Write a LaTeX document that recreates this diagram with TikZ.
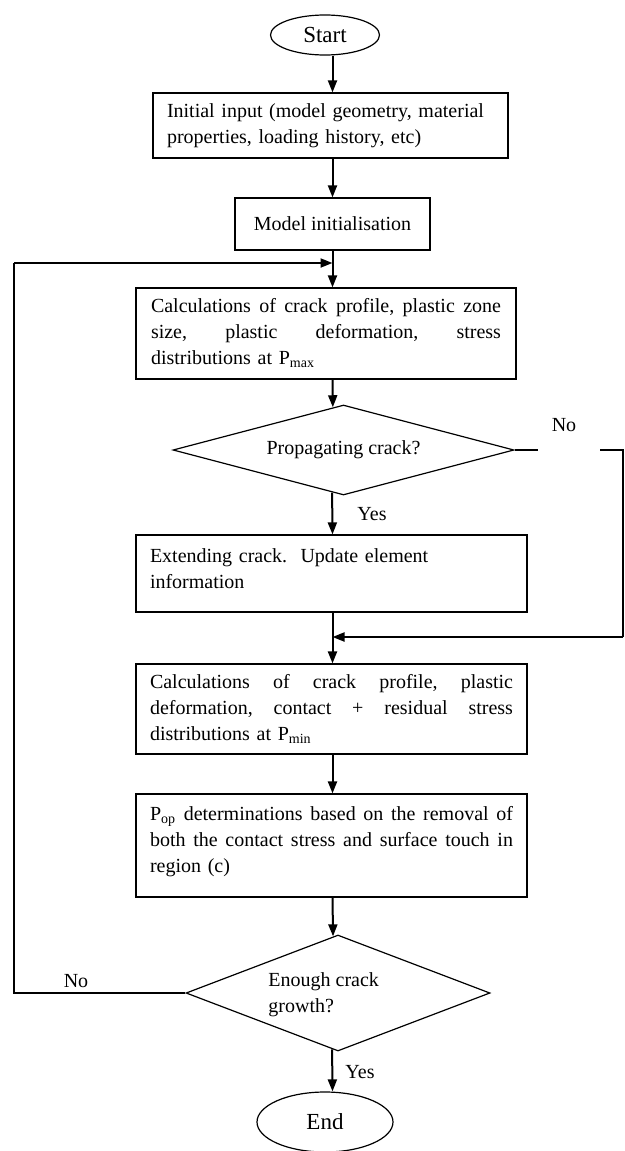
\documentclass[tikz,border=0pt]{standalone}
\usepackage{fontspec}
\setmainfont{Liberation Serif}
\usetikzlibrary{shapes.geometric,arrows.meta}
\newcommand{\jline}[2]{\makebox[#1][l]{#2}}
\begin{document}
\begin{tikzpicture}[x=0.5pt,y=-0.5pt,
  every node/.style={font=\fontsize{10}{13}\selectfont},
  term/.style={ellipse,draw,line width=0.6pt,inner sep=0pt,font=\fontsize{11.5}{13}\selectfont},
  procbox/.style={rectangle,draw,line width=0.6pt,inner xsep=7pt,inner ysep=0pt,align=left},
  decision/.style={diamond,draw,line width=0.6pt,inner sep=0pt},
  flow/.style={line width=1pt,-{Triangle[length=6pt,width=4.5pt]}},
  loopline/.style={line width=0.7pt},
  lbl/.style={inner sep=0pt}
]
\useasboundingbox (0,0) rectangle (625,1151);

% terminals
\node[term, minimum width=54.5pt, minimum height=20pt] (start) at (325,35) {Start};
\node[term, minimum width=68pt, minimum height=30pt] (end) at (325,1122) {End};

% process boxes
\node[procbox, minimum width=177.5pt, minimum height=32.5pt, text width=163.5pt] (b1) at (330.5,125.5)
  {Initial input (model geometry, material\\properties, loading history, etc)};
\node[procbox, minimum width=97.5pt, minimum height=26pt, align=center] (b2) at (332.5,224)
  {Model initialisation};
\node[procbox, inner xsep=7.5pt, minimum width=190pt, minimum height=45.5pt, text width=175pt] (b3) at (326,333.5)
  {\jline{175pt}{Calculations\hfill of\hfill crack\hfill profile,\hfill plastic\hfill zone}\\
   \jline{175pt}{size,\hfill plastic\hfill deformation,\hfill stress}\\
   distributions at P\textsubscript{max}};
\node[decision, minimum width=170.5pt, minimum height=45pt, shape aspect=3.8] (d1) at (343.5,450)
  {Propagating crack?};
\node[procbox, minimum width=195.5pt, minimum height=38.5pt, text width=181.5pt] (b4) at (331.5,573.5)
  {Extending crack.\ \ Update element\\information\\[-8.5pt]\mbox{}};
\node[procbox, minimum width=195.5pt, minimum height=45pt, text width=181.5pt] (b5) at (331.5,709)
  {\jline{181.5pt}{Calculations\hfill of\hfill crack\hfill profile,\hfill plastic}\\
   \jline{181.5pt}{deformation,\hfill contact\hfill +\hfill residual\hfill stress}\\
   distributions at P\textsubscript{min}};
\node[procbox, minimum width=195.5pt, minimum height=51.5pt, text width=181.5pt] (b6) at (331.5,845.5)
  {\jline{181.5pt}{P\textsubscript{op}\hfill determinations\hfill based\hfill on\hfill the\hfill removal\hfill of}\\
   \jline{181.5pt}{both\hfill the\hfill contact\hfill stress\hfill and\hfill surface\hfill touch\hfill in}\\
   region (c)\\[-6.5pt]\mbox{}};
\node[decision, minimum width=152pt, minimum height=58pt, shape aspect=2.62] (d2) at (338,993) {};
\node[lbl, anchor=west, align=left] (d2t) at (268,995) {Enough crack\\growth?};

% labels
\node[lbl] (yes1) at (372,514) {Yes};
\node[lbl] (no1) at (564,425) {No};
\node[lbl] (yes2) at (360,1072) {Yes};
\node[lbl] (no2) at (76,981) {No};

% helper coordinates
\coordinate (ax) at (332.5,0);
\coordinate (n1a) at (538,450);
\coordinate (n1b) at (600,450);
\coordinate (rc1) at (623,450);
\coordinate (rc2) at (623,637);
\coordinate (lc) at (14,263);

% main flow
\draw[flow] (start.south -| ax) -- (b1.north -| ax);
\draw[flow] (b1.south -| ax) -- (b2.north -| ax);
\draw[flow] (b2.south -| ax) -- (b3.north -| ax);
\draw[flow] (b3.south -| ax) -- (d1.104.64);
\draw[flow] (d1.255.36) -- (b4.north -| ax);
\draw[flow] (b4.south -| ax) -- (b5.north -| ax);
\draw[flow] (b5.south -| ax) -- (b6.north -| ax);
\draw[flow] (b6.south -| ax) -- (d2.95.62);
\draw[flow] (d2.264.38) -- (end.north -| ax);

% "No" branch of first decision
\draw[loopline] (d1.east) -- (n1a);
\draw[loopline] (n1b) -- (rc1) -- (rc2);
\draw[flow] (rc2) -- (ax |- rc2);

% "No" branch of second decision (loop back)
\draw[loopline] (d2.west) -- (d2.west -| lc) -- (lc);
\draw[flow] (lc) -- (ax |- lc);
\end{tikzpicture}
\end{document}
